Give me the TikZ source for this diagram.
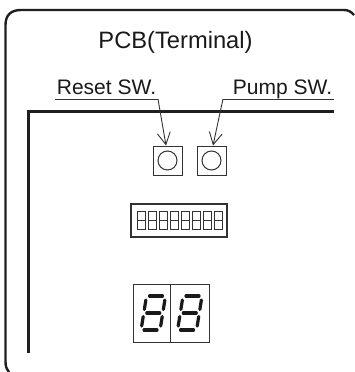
\documentclass[tikz,border=0pt]{standalone}
\usepackage{fontspec}
\setmainfont{Liberation Sans}
\usetikzlibrary{arrows.meta}
\tikzset{
  x=1pt,y=-1pt,
  frame/.style={line width=2.4pt,color=black!88},
  thin box/.style={draw=black!80,line width=1pt},
  lead/.style={draw=black!80,line width=0.9pt},
  leadarrow/.style={lead,-{Straight Barb[length=12pt,width=13pt,line width=0.9pt]}},
  lbl/.style={inner sep=0pt,anchor=base,text=black!90},
  seg/.style={line width=3.2pt,line cap=round,color=black!90},
}
\newcommand{\digitseven}[1]{%
  \begin{scope}[shift={(#1)},xslant=0.16]
    \draw[seg] (3.5,0)--(16.5,0);
    \draw[seg] (0.5,4)--(0.5,13.5);
    \draw[seg] (19.5,4)--(19.5,13.5);
    \draw[seg] (3.5,17)--(16.5,17);
    \draw[seg] (0.5,20.5)--(0.5,30);
    \draw[seg] (19.5,20.5)--(19.5,30);
    \draw[seg] (3.5,34)--(16.5,34);
  \end{scope}}
\begin{document}
\begin{tikzpicture}
\useasboundingbox (0,0) rectangle (354,372);
\draw[frame] (9,372) .. controls (6,368) and (5.5,366) .. (5.5,361) -- (5.5,25) .. controls (5.5,15) and (11,10) .. (21,10) -- (344,10) .. controls (348,10) and (351,11.5) .. (354,15);
\draw[frame] (334,111.5) -- (28.5,111.5) -- (28.5,353);
\node[lbl,font=\fontsize{23.7}{26}\selectfont] (title) at (175.5,48) {PCB(Terminal)};
\node[lbl,font=\fontsize{21}{24}\selectfont] (reset) at (106.5,94.5) {Reset SW.};
\node[lbl,font=\fontsize{21}{24}\selectfont] (pump) at (282.5,94.5) {Pump SW.};
\node[thin box,minimum width=29pt,minimum height=29pt,inner sep=0pt] (sw1) at (167.5,160.5) {};
\node[thin box,minimum width=29pt,minimum height=29pt,inner sep=0pt] (sw2) at (211.5,160.5) {};
\node[thin box,circle,minimum size=19pt,inner sep=0pt] (c1) at (sw1) {};
\node[thin box,circle,minimum size=19pt,inner sep=0pt] (c2) at (sw2) {};
\coordinate (r0) at (55,99);
\coordinate (r1) at (158,99);
\coordinate (p0) at (334,99);
\coordinate (p1) at (223,99);
\draw[lead] (r0) -- (r1);
\draw[leadarrow] (r1) -- ([xshift=-1.5pt]sw1.north);
\draw[lead] (p0) -- (p1);
\draw[leadarrow] (p1) -- ([xshift=1.5pt]sw2.north);
\node[thin box,line width=1.2pt,minimum width=96pt,minimum height=33pt,inner sep=0pt] (dip) at (179,220.5) {};
\foreach \i in {0,...,7}{
  \draw[thin box] (137+11*\i,211) rectangle (145+11*\i,229);
  \draw[thin box] (137+11*\i,220) -- (145+11*\i,220);
}
\node[thin box,minimum width=76pt,minimum height=58pt,inner sep=0pt] (disp) at (171,313) {};
\draw[thin box] (disp.north) ++(-1,0) -- ++(0,58);
\digitseven{146,296}
\digitseven{182.5,296}
\end{tikzpicture}
\end{document}
